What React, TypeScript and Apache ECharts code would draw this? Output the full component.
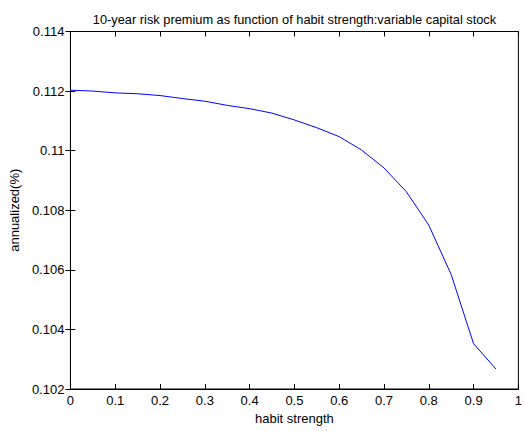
import React, { useEffect, useRef } from "react";
import * as echarts from "echarts";

const titleText = "10-year risk premium as function of habit strength:variable capital stock";
const habitStrength = [0, 0.05, 0.1, 0.15, 0.2, 0.25, 0.3, 0.35, 0.4, 0.45, 0.5, 0.55, 0.6, 0.65, 0.7, 0.75, 0.8, 0.85, 0.9, 0.95];
const riskPremium = [0.11203, 0.112, 0.11194, 0.11191, 0.11185, 0.11175, 0.11166, 0.11152, 0.11141, 0.11126, 0.11103, 0.11077, 0.11047, 0.11002, 0.10942, 0.10862, 0.1075, 0.10584, 0.10352, 0.10267];

export default function App() {
  const ref = useRef<HTMLDivElement>(null);
  useEffect(() => {
    if (!ref.current) return;
    const chart = echarts.init(ref.current, null, { renderer: "svg" });
    const font = "Liberation Sans, Arial, sans-serif";
    const fs = 13;
    const fmt = (v: number) => String(parseFloat(Number(v).toFixed(3)));
    const fmtX = (v: number) => String(parseFloat(Number(v).toFixed(2)));
    chart.setOption({
      animation: false,
      backgroundColor: "#ffffff",
      title: {
        text: titleText,
        left: 289.5,
        textAlign: "center",
        top: 8,
        textStyle: { fontFamily: font, fontSize: 12.8, fontWeight: "normal", color: "#000" },
      },
      grid: { left: 68, right: 6, top: 31.5, bottom: 42, show: true, borderColor: "#000", borderWidth: 1, backgroundColor: "#fff" },
      xAxis: [
        {
          type: "value",
          min: 0,
          max: 1,
          interval: 0.1,
          position: "bottom",
          name: "habit strength",
          nameLocation: "middle",
          nameGap: 22,
          nameTextStyle: { fontFamily: font, fontSize: fs, color: "#000" },
          axisLine: { show: true, lineStyle: { color: "#000", width: 1 } },
          axisTick: { show: true, inside: true, length: 5, lineStyle: { color: "#000" } },
          axisLabel: { formatter: fmtX, fontFamily: font, fontSize: fs, color: "#000", margin: 5 },
          splitLine: { show: false },
        },
        {
          type: "value",
          min: 0,
          max: 1,
          interval: 0.1,
          position: "top",
          axisLine: { show: true, lineStyle: { color: "#000", width: 1 } },
          axisTick: { show: true, inside: true, length: 5, lineStyle: { color: "#000" } },
          axisLabel: { show: false },
          splitLine: { show: false },
        },
      ],
      yAxis: [
        {
          type: "value",
          min: 0.102,
          max: 0.114,
          interval: 0.002,
          position: "left",
          name: "annualized(%)",
          nameLocation: "middle",
          nameGap: 46,
          nameTextStyle: { fontFamily: font, fontSize: fs, color: "#000" },
          axisLine: { show: true, lineStyle: { color: "#000", width: 1 } },
          axisTick: { show: true, inside: true, length: 5, lineStyle: { color: "#000" } },
          axisLabel: { formatter: fmt, fontFamily: font, fontSize: fs, color: "#000", margin: 6 },
          splitLine: { show: false },
        },
        {
          type: "value",
          min: 0.102,
          max: 0.114,
          interval: 0.002,
          position: "right",
          axisLine: { show: true, lineStyle: { color: "#000", width: 1 } },
          axisTick: { show: true, inside: true, length: 5, lineStyle: { color: "#000" } },
          axisLabel: { show: false },
          splitLine: { show: false },
        },
      ],
      series: [
        {
          type: "line",
          data: habitStrength.map((x, i) => [x, riskPremium[i]]),
          showSymbol: false,
          symbol: "none",
          lineStyle: { color: "#0000ff", width: 1 },
          itemStyle: { color: "#0000ff" },
          xAxisIndex: 0,
          yAxisIndex: 0,
        },
      ],
    });
    return () => chart.dispose();
  }, []);
  return <div ref={ref} style={{ position: "fixed", left: 0, top: 0, width: 525, height: 431 }} />;
}
